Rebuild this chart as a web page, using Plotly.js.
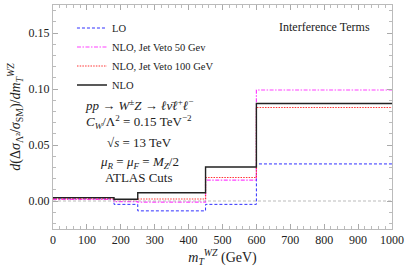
<!DOCTYPE html>
<html><head><meta charset="utf-8">
<script src="https://cdn.plot.ly/plotly-3.0.1.min.js"></script>
<style>html,body{margin:0;padding:0;background:#fff}#c{width:407px;height:271px}</style>
</head><body><div id="c"></div>
<script>
const binEdges = [0, 180, 250, 450, 600, 1000];
const seriesNames = ["LO", "NLO, Jet Veto 50 Gev", "NLO, Jet Veto 100 GeV", "NLO"];
const valsLO    = [0.002, -0.003, -0.0088, -0.003, 0.0331];
const valsJV50  = [0.0015, -0.0005, -0.001, 0.0186, 0.0991];
const valsJV100 = [0.002, 0.0012, 0.0018, 0.021, 0.0835];
const valsNLO   = [0.003, 0.0015, 0.0074, 0.0304, 0.0871];
const xTickVals = [0,100,200,300,400,500,600,700,800,900,1000];
const yTickVals = [0.00,0.05,0.10,0.15];
const yTickText = ["0.00","0.05","0.10","0.15"];

const styles = [
  {color:'#3030ff', dash:'3px,2px', width:1},
  {color:'#ff40ff', dash:'4px,1.5px,1.5px,1.5px', width:1.2},
  {color:'#ff3535', dash:'1.5px,1.2px', width:1.2},
  {color:'#222222', dash:'solid', width:1.4}
];
const allVals = [valsLO, valsJV50, valsJV100, valsNLO];
const traces = allVals.map((v,i)=>({
  x: binEdges,
  y: v.concat([v[v.length-1]]),
  type:'scatter', mode:'lines',
  line:{shape:'hv', color:styles[i].color, dash:styles[i].dash, width:styles[i].width},
  name: seriesNames[i], legendgroup:'g'+i
}));
const F = '"Liberation Serif", "DejaVu Serif", serif';
const ann = (x,y,text,size)=>({xref:'x', yref:'paper', x:x, y:y, xanchor:'center', yanchor:'middle',
  text:text, showarrow:false, font:{family:F, size:size, color:'#222'}});
const layout = {
  width:407, height:271,
  margin:{l:53, r:15, t:5, b:42},
  paper_bgcolor:'#fff', plot_bgcolor:'#fff',
  font:{family:F, size:11, color:'#222'},
  showlegend:true,
  legend:{x:0.056, y:0.962, xanchor:'left', yanchor:'top', bgcolor:'rgba(0,0,0,0)',
          font:{family:F, size:10.5, color:'#222'}, tracegroupgap:0, itemwidth:30},
  xaxis:{range:[0,1000], tickvals:xTickVals, ticks:'inside', ticklen:5, tickcolor:'#aaa',
         showline:true, linecolor:'#bbb', mirror:'ticks', showgrid:false, zeroline:false,
         tickfont:{family:F, size:12, color:'#222'},
         minor:{dtick:20, ticks:'inside', ticklen:3, tickcolor:'#bbb', showgrid:false},
         title:{text:'<i>m</i><sub><i>T</i></sub><sup><i>WZ</i></sup> (GeV)', font:{family:F, size:14, color:'#222'}, standoff:5}},
  yaxis:{range:[-0.025,0.175], tickvals:yTickVals, ticktext:yTickText, ticks:'inside', ticklen:5, tickcolor:'#aaa',
         showline:true, linecolor:'#bbb', mirror:'ticks', showgrid:false, zeroline:false,
         tickfont:{family:F, size:12, color:'#222'},
         minor:{dtick:0.01, ticks:'inside', ticklen:3, tickcolor:'#bbb', showgrid:false},
         title:{text:'<i>d</i>(Δ<i>σ</i><sub>Λ²</sub>/<i>σ</i><sub>SM</sub>)/<i>dm</i><sub><i>T</i></sub><sup><i>WZ</i></sup>', font:{family:F, size:14, color:'#222'}, standoff:4}},
  shapes:[{type:'line', xref:'paper', x0:0, x1:1, yref:'y', y0:0, y1:0, line:{color:'#aaa', width:0.8, dash:'3px,2px'}}],
  annotations:[
    {xref:'paper', yref:'paper', x:0.80, y:0.90, xanchor:'center', yanchor:'middle', text:'Interference Terms', showarrow:false, font:{family:F, size:12, color:'#222'}},
    ann(255, 0.554, '<i>pp</i> → <i>W</i><sup>±</sup><i>Z</i> → <i>ℓν̄ℓ</i><sup>+</sup><i>ℓ</i><sup>−</sup>', 13),
    ann(255, 0.478, '<i>C</i><sub><i>W</i></sub>/Λ<sup>2</sup> = 0.15 TeV<sup>−2</sup>', 13),
    ann(255, 0.384, '√<i>s</i> = 13 TeV', 13),
    ann(255, 0.295, '<i>μ</i><sub><i>R</i></sub> = <i>μ</i><sub><i>F</i></sub> = <i>M</i><sub><i>Z</i></sub>/2', 13),
    ann(255, 0.228, 'ATLAS Cuts', 13)
  ]
};
Plotly.newPlot('c', traces, layout, {displayModeBar:false, staticPlot:true});
</script></body></html>
